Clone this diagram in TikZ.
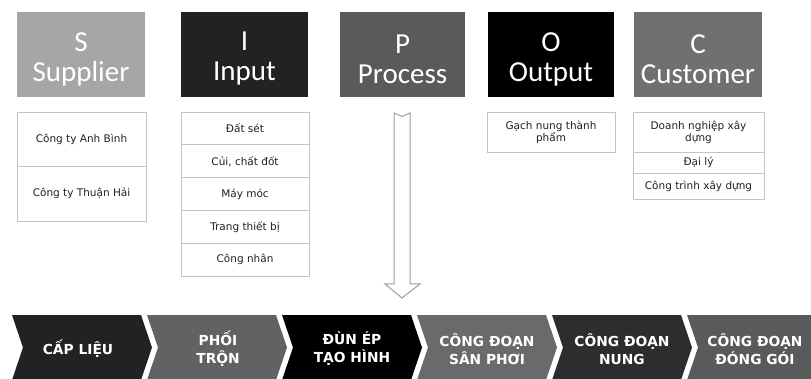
\documentclass[tikz,border=0pt]{standalone}
\usepackage{fontspec}
\setmainfont{DejaVu Sans}
\newfontfamily\headfont{Carlito}
\usetikzlibrary{positioning}

\definecolor{sgray}{HTML}{A6A6A6}
\definecolor{igray}{HTML}{222222}
\definecolor{pgray}{HTML}{5A5A5A}
\definecolor{ogray}{HTML}{000000}
\definecolor{cgray}{HTML}{707070}
\definecolor{linegray}{HTML}{C4C4C4}
\definecolor{txtgray}{HTML}{202020}

\tikzset{
  head/.style={minimum width=#1, minimum height=85, inner sep=0pt,
    align=center, text=white, font=\headfont\fontsize{29}{30}\selectfont},
  headtext/.style={yshift=-4.5pt},
  cell/.style={draw=linegray, line width=0.8pt, inner sep=1pt, align=center,
    text=txtgray, font=\fontsize{10.5}{12}\selectfont},
  steptext/.style={align=center, text=white,
    font=\bfseries\fontsize{13.8}{18}\selectfont},
  blockarrow/.style={draw=gray!75, line width=1pt, fill=white, line join=miter}
}

\begin{document}
\begin{tikzpicture}[x=1pt,y=-1pt]
  \useasboundingbox (0,0) rectangle (811,379);
  % SIPOC heads
  \fill[sgray] (17,12) rectangle (145,97);
  \fill[igray] (181,12) rectangle (308,97);
  \fill[pgray] (340,12) rectangle (465,97);
  \fill[ogray] (488,12) rectangle (614,97);
  \fill[cgray] (634,12) rectangle (762,97);
  \node[head=128, headtext] (S) at (81,54.5)    {S\\Supplier};
  \node[head=127, headtext] (I) at (244.5,54.5) {I\\Input};
  \node[head=125, headtext] (P) at (402.5,54.5) {P\\Process};
  \node[head=126, headtext] (O) at (551,54.5)   {O\\Output};
  \node[head=128, headtext] (C) at (698,54.5)   {C\\Customer};
  % Supplier
  \node[cell, minimum width=129, minimum height=54] (s1) at (81.5,139)   {Công ty Anh Bình};
  \node[cell, minimum width=129, minimum height=55] (s2) at (81.5,193.5) {Công ty Thuận Hải};
  % Input
  \node[cell, minimum width=128, minimum height=32.8] (i1) at (245,128.4) {Đất sét};
  \node[cell, minimum width=128, minimum height=32.8] (i2) at (245,161.2) {Củi, chất đốt};
  \node[cell, minimum width=128, minimum height=32.8] (i3) at (245,194)   {Máy móc};
  \node[cell, minimum width=128, minimum height=32.8] (i4) at (245,226.8) {Trang thiết bị};
  \node[cell, minimum width=128, minimum height=32.8] (i5) at (245,259.6) {Công nhân};
  % Output
  \node[cell, minimum width=128, minimum height=40] (o1) at (551,132) {Gạch nung thành\\phẩm};
  % Customer
  \node[cell, minimum width=131, minimum height=40] (k1) at (698.5,132)   {Doanh nghiệp xây\\dựng};
  \node[cell, minimum width=131, minimum height=21] (k2) at (698.5,162.5) {Đại lý};
  \node[cell, minimum width=131, minimum height=26] (k3) at (698.5,186)   {Công trình xây dựng};
  % Process arrow
  \draw[blockarrow] (394,113) -- (402,116.5) -- (410,113) -- (410,284)
    -- (420,284) -- (402,298) -- (385,284) -- (394,284) -- cycle;
  % Process steps
  \fill[fill=igray]          (12,315) -- ++(129,0) -- ++(11,32.5) -- ++(-11,32.5) -- ++(-129,0) -- ++(11,-32.5) -- cycle;
  \fill[fill=pgray!95!white] (147,315) -- ++(129,0) -- ++(11,32.5) -- ++(-11,32.5) -- ++(-129,0) -- ++(11,-32.5) -- cycle;
  \fill[fill=black]          (282,315) -- ++(129,0) -- ++(11,32.5) -- ++(-11,32.5) -- ++(-129,0) -- ++(11,-32.5) -- cycle;
  \fill[fill=cgray!95!black] (417,315) -- ++(129,0) -- ++(11,32.5) -- ++(-11,32.5) -- ++(-129,0) -- ++(11,-32.5) -- cycle;
  \fill[fill=igray!95!white] (552,315) -- ++(129,0) -- ++(11,32.5) -- ++(-11,32.5) -- ++(-129,0) -- ++(11,-32.5) -- cycle;
  \fill[fill=pgray]          (687,315) -- ++(129,0) -- ++(11,32.5) -- ++(-11,32.5) -- ++(-129,0) -- ++(11,-32.5) -- cycle;
  % Step labels
  \node[steptext] (t1) at (78,349)  {CẤP LIỆU};
  \node[steptext] (t2) at (218,349) {PHỐI\\TRỘN};
  \node[steptext] (t3) at (352,349) {ĐÙN ÉP\\TẠO HÌNH};
  \node[steptext] (t4) at (487,349) {CÔNG ĐOẠN\\SÂN PHƠI};
  \node[steptext] (t5) at (622,349) {CÔNG ĐOẠN\\NUNG};
  \node[steptext] (t6) at (755,349) {CÔNG ĐOẠN\\ĐÓNG GÓI};
\end{tikzpicture}
\end{document}
